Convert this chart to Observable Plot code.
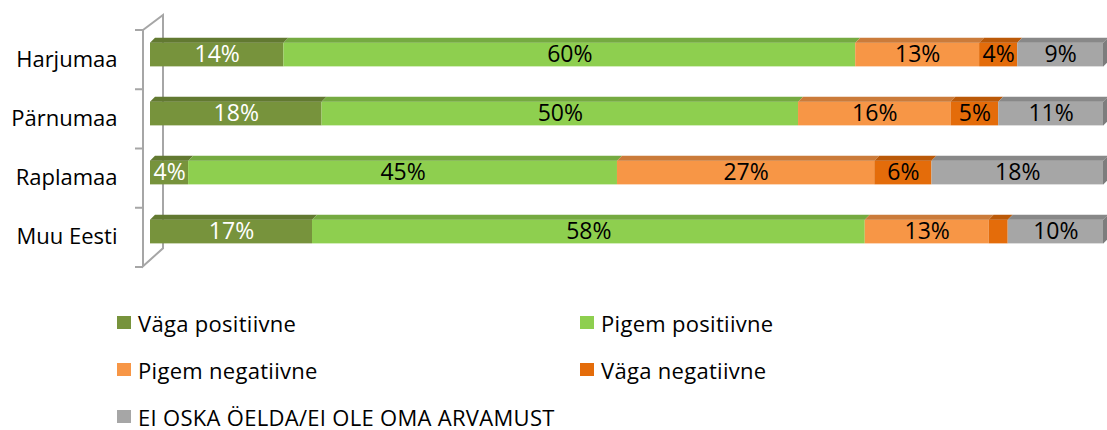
<!DOCTYPE html>
<html>
<head>
<meta charset="utf-8">
<script src="https://cdn.jsdelivr.net/npm/d3@7"></script>
<script src="https://cdn.jsdelivr.net/npm/@observablehq/plot@0.6"></script>
<style>
  html, body { margin: 0; padding: 0; background: #fff; }
  #wrap { position: relative; width: 1107px; height: 430px; overflow: hidden; font-family: "Open Sans", sans-serif; }
  #chart svg { display: block; }
  #legend { position: absolute; left: 117px; top: 299px; display: grid;
    grid-template-columns: 463px 400px; grid-auto-rows: 47px; align-items: center; }
  .item { display: flex; align-items: center; font-size: 22px; line-height: 26px; color: #000; white-space: nowrap; letter-spacing: 0.3px; }
  .sw { width: 14px; height: 13px; margin-right: 7px; flex: none; }
</style>
</head>
<body>
<div id="wrap">
  <div id="chart"></div>
  <div id="legend"></div>
</div>
<script>
const regions = ["Harjumaa", "Pärnumaa", "Raplamaa", "Muu Eesti"];
const answers = ["Väga positiivne", "Pigem positiivne", "Pigem negatiivne", "Väga negatiivne", "EI OSKA ÖELDA/EI OLE OMA ARVAMUST"];
const colors = ["#77933C", "#8ECF4F", "#F79646", "#E46C0A", "#A6A6A6"];
const vagaPositiivne   = [14, 18, 4, 17];
const pigemPositiivne  = [60, 50, 45, 58];
const pigemNegatiivne  = [13, 16, 27, 13];
const vagaNegatiivne   = [4, 5, 6, 2];
const eiOska           = [9, 11, 18, 10];
const showLabel = [[true,true,true,true],[true,true,true,true],[true,true,true,true],[true,true,true,false],[true,true,true,true]];

const series = [vagaPositiivne, pigemPositiivne, pigemNegatiivne, vagaNegatiivne, eiOska];
const rows = [];
regions.forEach((r, ri) => {
  let acc = 0;
  series.forEach((s, si) => {
    const v = s[ri];
    rows.push({region: r, answer: answers[si], value: v, x1: acc, x2: acc + v, si, label: showLabel[si][ri], last: si === series.length - 1});
    acc += v;
  });
});

const W = 1107, H = 300;
const BAR = 24;      // front face thickness
const D = 5;         // 3D depth

function topFaces(index, scales, values, dims) {
  const g = d3.create("svg:g");
  const y = scales.y, x = scales.x;
  const band = (dims.height - dims.marginTop - dims.marginBottom) / regions.length;
  const ins = (band - BAR) / 2;
  for (const d of rows) {
    const yt = y(d.region) + ins;
    const xa = x(d.x1), xb = x(d.x2);
    const c = d3.color(colors[d.si]).darker(0.55).formatHex();
    g.append("path")
      .attr("d", `M${xa},${yt}L${xb},${yt}L${xb + D},${yt - D}L${xa + D},${yt - D}Z`)
      .attr("fill", c);
    if (d.last) {
      g.append("path")
        .attr("d", `M${xb},${yt}L${xb + D},${yt - D}L${xb + D},${yt + BAR - D}L${xb},${yt + BAR}Z`)
        .attr("fill", d3.color(colors[d.si]).darker(0.8).formatHex());
    }
  }
  return g.node();
}

function wall(index, scales, values, dims) {
  const g = d3.create("svg:g").attr("stroke", "#A6A6A6").attr("fill", "none").attr("stroke-width", 2);
  const y = scales.y;
  const band = (dims.height - dims.marginTop - dims.marginBottom) / regions.length;
  const xf = dims.marginLeft - 7, xbk = xf + 20;
  const y0 = y(regions[0]) + D, y1 = y(regions[regions.length - 1]) + band + D;
  g.append("path").attr("d", `M${xf},${y0}L${xf},${y1}L${xbk},${y1 - 18}L${xbk},${y0 - 15}L${xf},${y0}`);
  for (let i = 0; i <= regions.length; i++) {
    const yy = y0 + i * band;
    g.append("line").attr("x1", xf - 8).attr("x2", xf).attr("y1", yy).attr("y2", yy);
  }
  return g.node();
}

const plot = Plot.plot({
  width: W,
  height: H,
  marginLeft: 150,
  marginRight: 4,
  marginTop: 24,
  marginBottom: H - 261,
  style: {fontFamily: "Open Sans, sans-serif", background: "white"},
  x: {domain: [0, 100], axis: null},
  y: {domain: regions, padding: 0, axis: null},
  marks: [
    wall,
    Plot.barX(rows, {x1: "x1", x2: "x2", y: "region", fill: d => colors[d.si], insetTop: (59.25 - BAR) / 2, insetBottom: (59.25 - BAR) / 2}),
    topFaces,
    Plot.text(rows.filter(d => d.label), {
      x: d => (d.x1 + d.x2) / 2, y: "region", text: d => d.value + "%",
      fill: d => d.si === 0 ? "#fff" : "#000", fontSize: 23, dy: 0
    }),
    Plot.text(regions, {x: 0, y: d => d, text: d => d, textAnchor: "end", dx: -33, dy: 5, fontSize: 22, fill: "#000"})
  ]
});
document.getElementById("chart").appendChild(plot);

const legend = document.getElementById("legend");
[0, 1, 2, 3, 4].forEach(i => {
  const it = document.createElement("div");
  it.className = "item";
  const sw = document.createElement("span");
  sw.className = "sw";
  sw.style.background = colors[i];
  it.appendChild(sw);
  it.appendChild(document.createTextNode(answers[i]));
  legend.appendChild(it);
});
</script>
</body>
</html>
